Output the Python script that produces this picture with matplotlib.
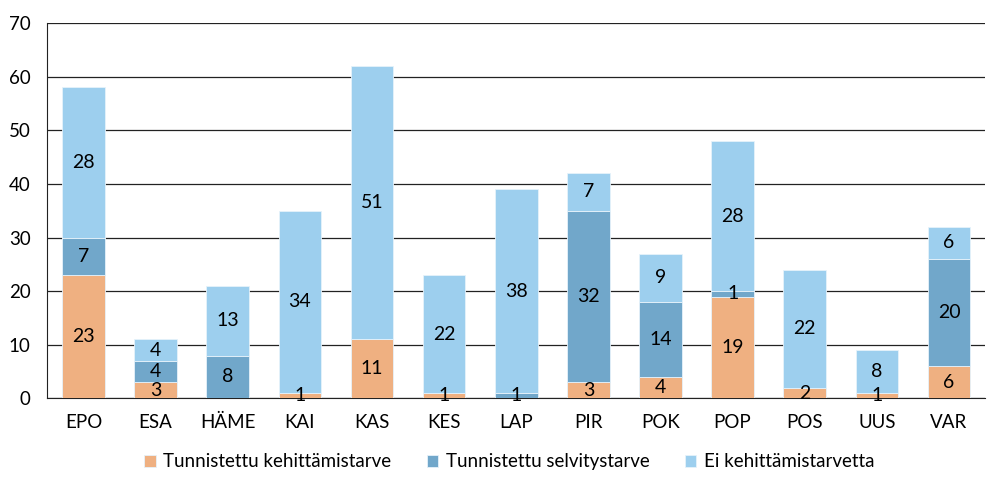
import numpy as np
import matplotlib
matplotlib.use("Agg")
import matplotlib.pyplot as plt

regions = ["EPO", "ESA", "HÄME", "KAI", "KAS", "KES", "LAP", "PIR", "POK", "POP", "POS", "UUS", "VAR"]
kehittamis = [23, 3, 0, 1, 11, 1, 0, 3, 4, 19, 2, 1, 6]
selvitys = [7, 4, 8, 0, 0, 0, 1, 32, 14, 1, 0, 0, 20]
ei_tarvetta = [28, 4, 13, 34, 51, 22, 38, 7, 9, 28, 22, 8, 6]

series = [
    ("Tunnistettu kehittämistarve", kehittamis, "#EFB081"),
    ("Tunnistettu selvitystarve", selvitys, "#71A7CA"),
    ("Ei kehittämistarvetta", ei_tarvetta, "#9DCFEE"),
]

plt.rcParams["font.family"] = ["Lato", "DejaVu Sans"]

fig = plt.figure(figsize=(9.89, 4.8), dpi=100)
ax = fig.add_axes([0.048, 0.17, 0.948, 0.782])

x = np.arange(len(regions))
bottom = np.zeros(len(regions))
for name, vals, color in series:
    vals = np.array(vals)
    ax.bar(x, vals, 0.59, bottom=bottom, color=color, label=name,
           edgecolor="#E6F2FA", linewidth=0.6, zorder=3)
    for xi, b, v in zip(x, bottom, vals):
        if v > 0:
            ax.text(xi, b + v / 2, str(v), ha="center", va="center",
                    fontsize=14, color="black", zorder=4)
    bottom += vals

ax.set_xlim(-0.5, len(regions) - 0.5)
ax.set_ylim(0, 70)
ax.set_yticks(range(0, 71, 10))
ax.set_xticks(x)
ax.set_xticklabels(regions)
ax.tick_params(axis="both", length=0, labelsize=13.5, colors="black")
ax.tick_params(axis="x", pad=11)
ax.tick_params(axis="y", pad=12)
ax.grid(axis="y", color="#222222", linewidth=0.9, zorder=0)
for s in ["top", "right"]:
    ax.spines[s].set_visible(False)
ax.spines["left"].set_color("#222222")
ax.spines["bottom"].set_color("#222222")

fig.legend(loc="lower center", bbox_to_anchor=(0.515, -0.015), ncol=3, frameon=False,
           fontsize=13.5, handlelength=0.6, handleheight=0.6, columnspacing=1.9,
           handletextpad=0.4)

fig.savefig("out.png", dpi=100)
